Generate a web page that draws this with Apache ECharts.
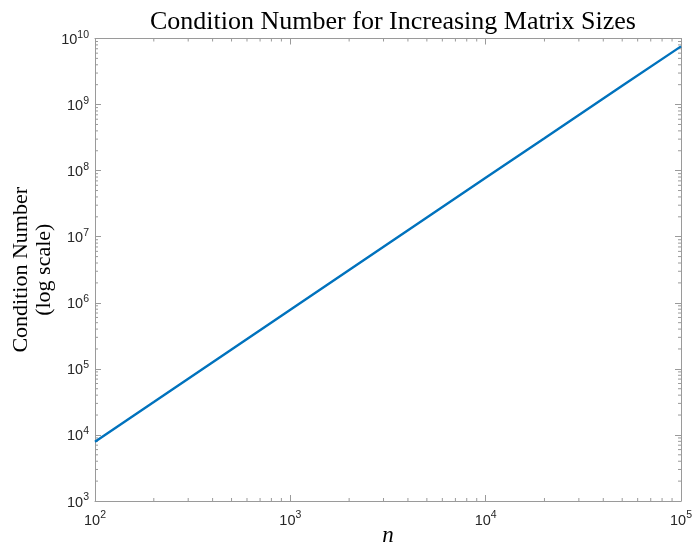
<!DOCTYPE html>
<html>
<head>
<meta charset="utf-8">
<script src="https://cdn.jsdelivr.net/npm/echarts@6/dist/echarts.min.js"></script>
<style>html,body{margin:0;padding:0;background:#fff}#c{width:693px;height:546px}</style>
</head>
<body>
<div id="c"></div>
<script>
// Data (log-log, roughly straight line)
const nValues = [100, 200, 500, 1000, 2000, 5000, 10000, 20000, 50000, 100000];
const condValues = [7.9e3, 3.15e4, 1.97e5, 7.85e5, 3.14e6, 1.96e7, 7.8e7, 3.1e8, 1.93e9, 7.6e9];
const xTickExps = [2, 3, 4, 5];
const yTickExps = [3, 4, 5, 6, 7, 8, 9, 10];
const titleText = 'Condition Number for Increasing Matrix Sizes';
const yNameText = 'Condition Number\n(log scale)';
const xNameText = 'n';

const axisColor = '#9a9a9a';
const labelColor = '#262626';

const minorX = [];
for (let e = 2; e < 5; e++) for (let m = 2; m <= 9; m++) minorX.push(m * Math.pow(10, e));
const minorY = [];
for (let e = 3; e < 10; e++) for (let m = 2; m <= 9; m++) minorY.push(m * Math.pow(10, e));

function fmt(v) {
  const e = Math.round(Math.log10(v));
  return '{b|10}{s|' + e + '}';
}
const rich = {
  b: { fontSize: 14.5, lineHeight: 18, verticalAlign: 'bottom', fontFamily: 'Liberation Sans, Arial, sans-serif', color: labelColor },
  s: { fontSize: 10.5, lineHeight: 11, verticalAlign: 'top', fontFamily: 'Liberation Sans, Arial, sans-serif', color: labelColor }
};

const chart = echarts.init(document.getElementById('c'), null, { renderer: 'canvas' });
const common = {
  type: 'log', logBase: 10,
  axisLine: { show: true, lineStyle: { color: axisColor, width: 1 } },
  axisTick: { show: true, inside: true, length: 6, lineStyle: { color: axisColor } },
  minorTick: { show: false },
  splitLine: { show: false }
};
chart.setOption({
  animation: false,
  backgroundColor: '#fff',
  title: {
    text: titleText, left: 388, top: 4, textAlign: 'center',
    textStyle: { fontFamily: 'Liberation Serif, serif', fontSize: 26, fontWeight: 'normal', color: '#000' }
  },
  grid: { left: 95, right: 12, top: 38.5, bottom: 45, containLabel: false, outerBoundsMode: 'none' },
  xAxis: [
    Object.assign({}, common, {
      position: 'bottom', min: 100, max: 100000,
      name: xNameText, nameLocation: 'middle', nameGap: 23, nameMoveOverlap: false,
      nameTextStyle: { fontFamily: 'Liberation Serif, serif', fontStyle: 'italic', fontSize: 23, color: '#000' },
      axisLabel: { formatter: fmt, rich: rich, margin: 9 }
    }),
    Object.assign({}, common, {
      position: 'top', min: 100, max: 100000, axisLabel: { show: false }
    })
  ],
  yAxis: [
    Object.assign({}, common, {
      position: 'left', min: 1e3, max: 1e10,
      name: yNameText, nameLocation: 'middle', nameRotate: 90, nameGap: 39, nameMoveOverlap: false,
      nameTextStyle: { fontFamily: 'Liberation Serif, serif', fontSize: 22, lineHeight: 23, color: '#000', align: 'center' },
      axisLabel: { formatter: fmt, rich: rich, margin: 6 }
    }),
    Object.assign({}, common, {
      position: 'right', min: 1e3, max: 1e10, axisLabel: { show: false }
    })
  ],
  series: [
    {
      type: 'line', xAxisIndex: 0, yAxisIndex: 0,
      data: nValues.map((n, i) => [n, condValues[i]]),
      showSymbol: false, symbol: 'none',
      lineStyle: { color: '#0072BD', width: 2.4 }
    },
    {
      type: 'custom', xAxisIndex: 0, yAxisIndex: 0, silent: true,
      data: minorX.map(v => [v]),
      renderItem: function (params, api) {
        const v = api.value(0);
        const b = api.coord([v, 1e3]);
        const t = api.coord([v, 1e10]);
        return { type: 'group', children: [
          { type: 'line', shape: { x1: b[0], y1: b[1], x2: b[0], y2: b[1] - 3 }, style: { stroke: axisColor, lineWidth: 1 } },
          { type: 'line', shape: { x1: t[0], y1: t[1], x2: t[0], y2: t[1] + 3 }, style: { stroke: axisColor, lineWidth: 1 } }
        ]};
      }
    },
    {
      type: 'custom', xAxisIndex: 0, yAxisIndex: 0, silent: true,
      data: minorY.map(v => [100, v]),
      encode: { x: 0, y: 1 },
      renderItem: function (params, api) {
        const v = api.value(1);
        const l = api.coord([100, v]);
        const r = api.coord([100000, v]);
        return { type: 'group', children: [
          { type: 'line', shape: { x1: l[0], y1: l[1], x2: l[0] + 3, y2: l[1] }, style: { stroke: axisColor, lineWidth: 1 } },
          { type: 'line', shape: { x1: r[0], y1: r[1], x2: r[0] - 3, y2: r[1] }, style: { stroke: axisColor, lineWidth: 1 } }
        ]};
      }
    }
  ]
});
</script>
</body>
</html>
